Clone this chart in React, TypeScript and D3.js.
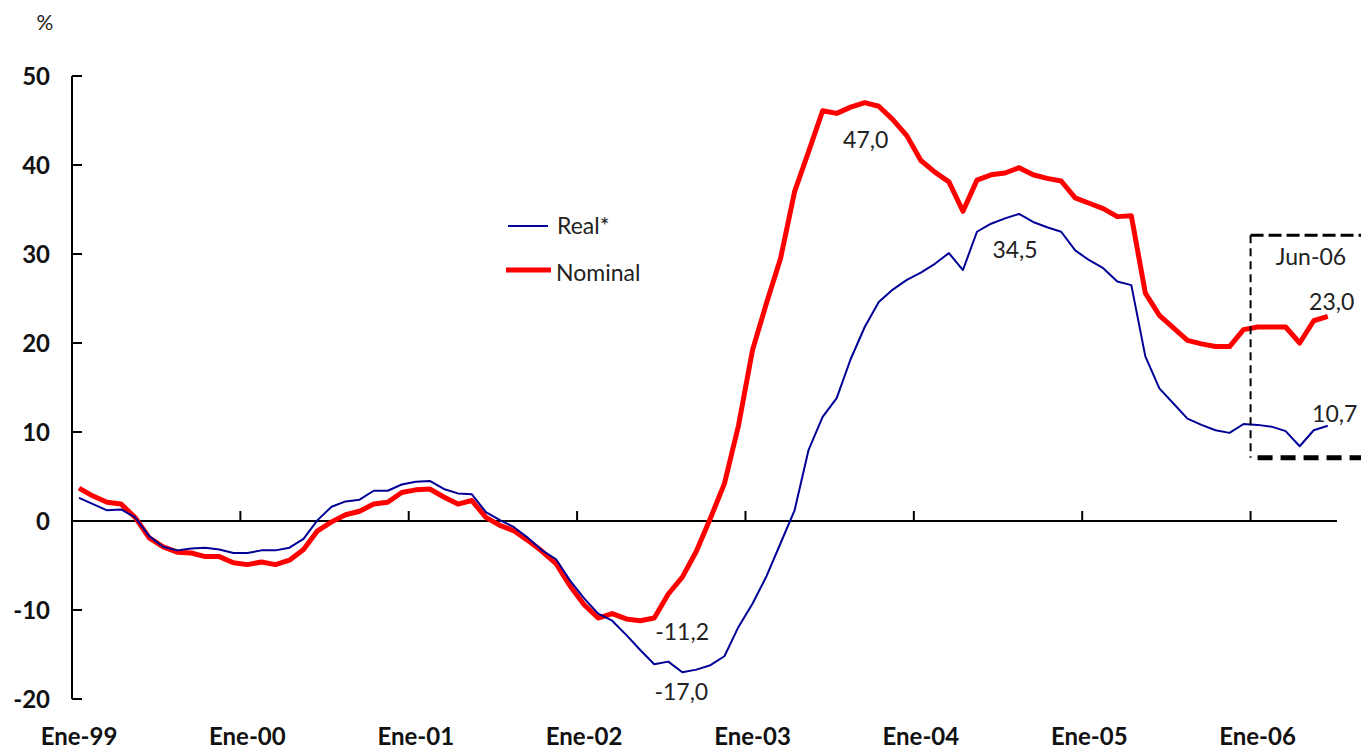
import React from "react";
import * as d3 from "d3";

// Monthly observations, Jan-1999 .. Jun-2006 (index 0..89)
const nominal: number[] = [
  3.7, 2.8, 2.1, 1.9, 0.4, -1.9, -2.9, -3.5, -3.6, -4.0, -4.0, -4.7,
  -4.9, -4.6, -4.9, -4.4, -3.2, -1.1, -0.1, 0.7, 1.1, 1.9, 2.1, 3.2,
  3.5, 3.6, 2.7, 1.9, 2.3, 0.4, -0.5, -1.1, -2.2, -3.4, -4.8, -7.3,
  -9.4, -10.9, -10.4, -11.0, -11.2, -10.9, -8.2, -6.3, -3.4, 0.3, 4.2, 10.7,
  19.2, 24.5, 29.5, 37.0, 41.5, 46.1, 45.8, 46.5, 47.0, 46.6, 45.1, 43.3,
  40.5, 39.2, 38.1, 34.8, 38.3, 38.9, 39.1, 39.7, 38.9, 38.5, 38.2, 36.3,
  35.7, 35.1, 34.2, 34.3, 25.6, 23.1, 21.7, 20.3, 19.9, 19.6, 19.6, 21.5,
  21.8, 21.8, 21.8, 20.0, 22.5, 23.0,
];

const real: number[] = [
  2.6, 1.9, 1.2, 1.3, 0.4, -1.7, -2.9, -3.3, -3.1, -3.0, -3.2, -3.6,
  -3.6, -3.3, -3.3, -3.0, -2.0, 0.1, 1.6, 2.2, 2.4, 3.4, 3.4, 4.1,
  4.4, 4.5, 3.6, 3.1, 3.0, 1.0, 0.1, -0.7, -1.9, -3.3, -4.3, -6.7,
  -8.7, -10.4, -11.2, -12.8, -14.5, -16.1, -15.8, -17.0, -16.7, -16.2, -15.2, -11.9,
  -9.3, -6.2, -2.5, 1.2, 8.0, 11.7, 13.8, 18.2, 21.8, 24.6, 26.0, 27.1,
  27.9, 28.9, 30.1, 28.2, 32.5, 33.4, 34.0, 34.5, 33.6, 33.0, 32.5, 30.4,
  29.3, 28.4, 26.9, 26.5, 18.5, 14.9, 13.2, 11.5, 10.8, 10.2, 9.9, 10.9,
  10.8, 10.6, 10.1, 8.4, 10.2, 10.7,
];

const xTickLabels: string[] = ["Ene-99", "Ene-00", "Ene-01", "Ene-02", "Ene-03", "Ene-04", "Ene-05", "Ene-06"];
const yTicks: number[] = [-20, -10, 0, 10, 20, 30, 40, 50];

const seriesNames: string[] = ["Real*", "Nominal"];
const boxLabel = "Jun-06";
const boxTop = 32.1;
const boxBottom = 7.1;
const boxStartIndex = 83.5;

const fmt = (v: number) => v.toFixed(1).replace(".", ",");

export default function App() {
  const W = 1361;
  const H = 749;
  const x = d3.scaleLinear().domain([-0.5, 89.66]).range([72, 1337]);
  const y = d3.scaleLinear().domain([-20, 50]).range([699, 76]);

  const line = d3
    .line<number>()
    .x((_, i) => x(i))
    .y((d) => y(d));

  const font = "Lato, 'Gill Sans', 'Noto Sans', sans-serif";

  const iNomMax = d3.maxIndex(nominal);
  const iNomMin = d3.minIndex(nominal.slice(0, 50));
  const iRealMin = d3.minIndex(real);
  const iRealMax = d3.maxIndex(real);
  const iEnd = nominal.length - 1;

  const annotations = [
    { v: nominal[iNomMax], px: x(iNomMax) + 1, py: y(nominal[iNomMax]) + 45, anchor: "middle" },
    { v: nominal[iNomMin], px: x(iNomMin) + 15, py: y(nominal[iNomMin]) + 19, anchor: "start" },
    { v: real[iRealMin], px: x(iRealMin) - 1, py: y(real[iRealMin]) + 28, anchor: "middle" },
    { v: real[iRealMax], px: x(iRealMax) - 4, py: y(real[iRealMax]) + 44, anchor: "middle" },
    { v: nominal[iEnd], px: x(iEnd) + 4, py: y(nominal[iEnd]) - 6, anchor: "middle" },
    { v: real[iEnd], px: x(iEnd) + 7, py: y(real[iEnd]) - 4, anchor: "middle" },
  ];

  const boxX = x(boxStartIndex);

  return (
    <svg
      width={W}
      height={H}
      style={{ position: "absolute", left: 0, top: 0, background: "#fff" }}
      fontFamily={font}
    >
      <rect x={0} y={0} width={W} height={H} fill="#fff" />
      {/* % unit */}
      <text x={45} y={30} fontSize={21} textAnchor="middle" fill="#222">
        %
      </text>

      {/* y axis */}
      <line x1={x(-0.5)} x2={x(-0.5)} y1={y(50)} y2={y(-20)} stroke="#000" strokeWidth={2} />
      {yTicks.map((t) => (
        <g key={t}>
          <line x1={x(-0.5)} x2={x(-0.5) + 10} y1={y(t)} y2={y(t)} stroke="#000" strokeWidth={2} />
          <text
            x={50}
            y={y(t)}
            dy="0.36em"
            textAnchor="end"
            fontSize={24}
            fontWeight="bold"
            fill="#111"
          >
            {String(t)}
          </text>
        </g>
      ))}

      {/* x axis at zero */}
      <line x1={x(-0.5)} x2={x(89.66)} y1={y(0)} y2={y(0)} stroke="#000" strokeWidth={2} />
      {xTickLabels.map((lab, k) => (
        <g key={lab}>
          {k > 0 && (
            <line
              x1={x(12 * k - 0.5)}
              x2={x(12 * k - 0.5)}
              y1={y(0)}
              y2={y(0) - 10}
              stroke="#000"
              strokeWidth={2}
            />
          )}
          <text x={x(12 * k)} y={745} textAnchor="middle" fontSize={24} fontWeight="bold" fill="#111">
            {lab}
          </text>
        </g>
      ))}

      {/* series */}
      <path d={line(nominal) || ""} fill="none" stroke="#ff0000" strokeWidth={5} strokeLinejoin="round" />
      <path d={line(real) || ""} fill="none" stroke="#000096" strokeWidth={2} strokeLinejoin="round" />

      {/* highlight box */}
      <line x1={boxX} x2={boxX} y1={y(boxTop)} y2={y(boxBottom)} stroke="#000" strokeWidth={2} strokeDasharray="8 5" />
      <line x1={boxX} x2={W} y1={y(boxTop)} y2={y(boxTop)} stroke="#000" strokeWidth={3} strokeDasharray="13 5" />
      <line x1={boxX + 7} x2={W} y1={y(boxBottom)} y2={y(boxBottom)} stroke="#000" strokeWidth={5} strokeDasharray="15 8" />
      <text x={1311} y={265} textAnchor="middle" fontSize={23} fill="#222">
        {boxLabel}
      </text>

      {/* annotations */}
      {annotations.map((a, i) => (
        <text key={i} x={a.px} y={a.py} textAnchor={a.anchor as any} fontSize={23} fill="#222">
          {fmt(a.v)}
        </text>
      ))}

      {/* legend */}
      <line x1={508} x2={548} y1={226} y2={226} stroke="#000096" strokeWidth={2} />
      <text x={557} y={226} dy="0.35em" fontSize={23} fill="#222">
        {seriesNames[0]}
      </text>
      <line x1={506} x2={551} y1={270} y2={270} stroke="#ff0000" strokeWidth={5} />
      <text x={556} y={273} dy="0.35em" fontSize={23} fill="#222">
        {seriesNames[1]}
      </text>
    </svg>
  );
}
